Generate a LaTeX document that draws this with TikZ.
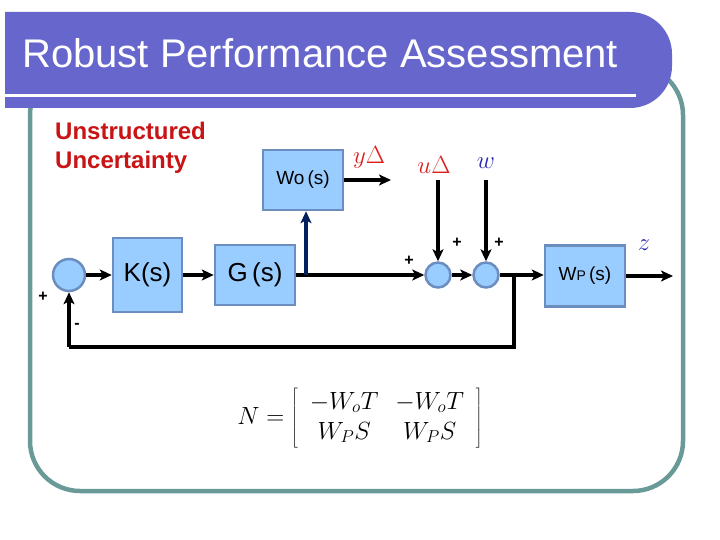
\documentclass[tikz,border=0pt]{standalone}
\usepackage{fontspec}
\setmainfont{Liberation Sans}
\usetikzlibrary{arrows.meta,calc}
\definecolor{titlec}{RGB}{102,102,204}
\definecolor{framec}{RGB}{106,154,152}
\definecolor{boxfill}{RGB}{153,204,255}
\definecolor{boxdraw}{RGB}{108,142,191}
\definecolor{redt}{RGB}{200,20,20}
\definecolor{redm}{RGB}{220,30,30}
\definecolor{bluem}{RGB}{40,40,170}
\definecolor{navy}{RGB}{0,32,96}
\begin{document}
\begin{tikzpicture}[x=1pt,y=-1pt,
  blk/.style={draw=boxdraw,fill=boxfill,line width=2.5pt,rectangle,inner sep=0pt,font=\fontsize{26}{30}\selectfont},
  sumc/.style={draw=boxdraw,fill=boxfill,line width=2.5pt,circle,inner sep=0pt},
  sig/.style={line width=3.5pt,-{Stealth[length=12pt,width=11pt,inset=3pt]}},
  wire/.style={line width=3.5pt},
  pm/.style={font=\bfseries\fontsize{16}{18}\selectfont,inner sep=0pt}]
\useasboundingbox (0,0) rectangle (720,540);
% frame
\draw[framec,line width=4.5pt,rounded corners=50pt] (30,65) rectangle (683,491);
% title bar
\fill[titlec] (5,12) -- (630,12) arc[start angle=-90,end angle=0,radius=42] -- (672,66) arc[start angle=0,end angle=90,radius=42] -- (5,108) -- cycle;
\fill[white] (5,94) rectangle (636,97.5);
\node[anchor=base west,text=white,inner sep=0pt,font=\fontsize{40}{48}\selectfont] (title) at (22,68) {Robust Performance Assessment};
% uncertainty label
\node[anchor=north west,align=left,text=redt,inner sep=0pt,font=\bfseries\fontsize{24}{29}\selectfont] (unc) at (55,122) {Unstructured\\Uncertainty};
% blocks
\node[sumc,minimum size=32pt] (s1) at (69,275) {};
\node[blk,minimum width=69pt,minimum height=74pt] (K) at (147.5,275) {K(s)};
\node[blk,minimum width=80pt,minimum height=60pt] (G) at (255,275) {G\,(s)};
\node[blk,minimum width=80pt,minimum height=60pt,font=\fontsize{19}{22}\selectfont] (Wo) at (303,180) {Wo\,(s)};
\node[sumc,minimum size=25pt] (s2) at (438,275) {};
\node[sumc,minimum size=25pt] (s3) at (486,275) {};
\node[blk,minimum width=80pt,minimum height=61pt,font=\fontsize{19}{22}\selectfont] (Wp) at (585,276) {W{\fontsize{14}{16}\selectfont P}\,(s)};
% coordinates
\coordinate (b1) at (306,275);
\coordinate (b2) at (514,275);
\coordinate (fb1) at (514,347);
\coordinate (fb2) at (69,347);
\coordinate (ydel) at (391,180);
\coordinate (utop) at (438,180);
\coordinate (wtop) at (486,180);
\coordinate (zend) at (673,276);
% connectors
\draw[sig] (s1) -- (K);
\draw[sig] (K) -- (G);
\draw[sig] (G) -- (s2);
\draw[sig,navy] (b1) -- (b1 |- Wo.south);
\draw[sig] (Wo.east |- ydel) -- (ydel);
\draw[sig] (utop) -- (s2);
\draw[sig] (wtop) -- (s3);
\draw[sig] (s2) -- (s3);
\draw[sig] (s3) -- (Wp.west |- s3);
\draw[sig] (Wp.east |- zend) -- (zend);
\draw[wire] (b2) -- (fb1) -- (fb2);
\draw[sig] (fb2) -- (s1);
% signs
\node[pm] (p1) at (43,297) {+};
\node[pm] (m1) at (77,326) {-};
\node[pm] (p2) at (409,261) {+};
\node[pm] (p3) at (457,243) {+};
\node[pm] (p4) at (499,243) {+};
% signal labels
\node[text=redm,font=\fontsize{24}{28}\selectfont,inner sep=0pt] (ly) at (369,157) {$y\Delta$};
\node[text=redm,font=\fontsize{24}{28}\selectfont,inner sep=0pt] (lu) at (434,165) {$u\Delta$};
\node[text=bluem,font=\fontsize{28}{32}\selectfont,inner sep=0pt] (lw) at (486,163) {$w$};
\node[text=bluem,font=\fontsize{28}{32}\selectfont,inner sep=0pt] (lz) at (644,245) {$z$};
% equation
\node[inner sep=0pt,font=\fontsize{25}{30}\selectfont] (eq) at (360,418) {$N=\left[\;\begin{array}{cc}-W_oT & \;-W_oT\\ W_PS & \;W_PS\end{array}\;\right]$};
\end{tikzpicture}
\end{document}
